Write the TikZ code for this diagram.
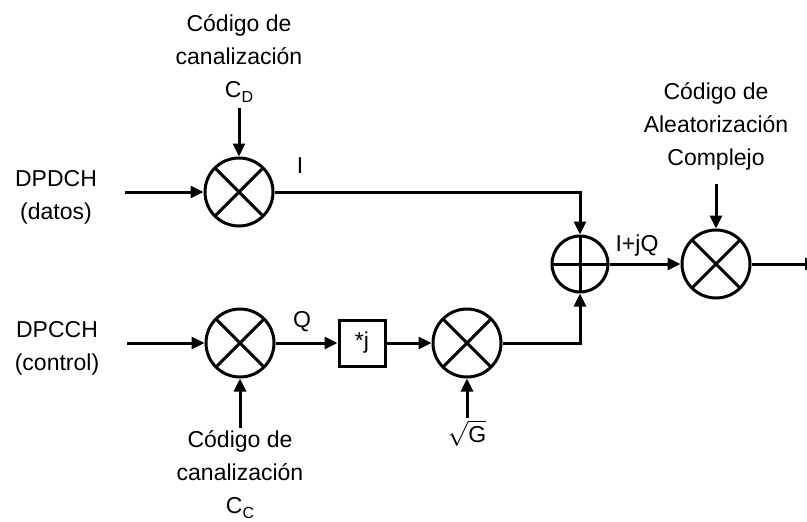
\documentclass[tikz,border=0pt]{standalone}
\usepackage{fontspec}
\setmainfont{Liberation Sans}
\usepackage{amsmath}
\usetikzlibrary{positioning, arrows.meta}

\newcommand{\lowsub}[1]{\raisebox{-0.45ex}{\fontsize{16}{16}\selectfont #1}}

\begin{document}
\begin{tikzpicture}[x=1pt, y=-1pt,
  mult/.style={draw, circle, line width=3pt, minimum size=68pt, inner sep=0pt,
               path picture={
                 \draw[line width=3pt] (path picture bounding box.south west) -- (path picture bounding box.north east);
                 \draw[line width=3pt] (path picture bounding box.north west) -- (path picture bounding box.south east);}},
  adder/.style={draw, circle, line width=3pt, minimum size=56pt, inner sep=0pt,
                path picture={
                  \draw[line width=3pt] (path picture bounding box.north) -- (path picture bounding box.south);
                  \draw[line width=3pt] (path picture bounding box.west) -- (path picture bounding box.east);}},
  conjbox/.style={draw, line width=3pt, minimum size=46pt, inner sep=0pt,
                  font=\fontsize{23}{27}\selectfont},
  arr/.style={-{Triangle[length=13pt, width=12pt]}, line width=3pt},
  lbl/.style={align=center, inner sep=2pt, font=\fontsize{23}{33}\selectfont},
  sig/.style={inner sep=0pt, font=\fontsize{23}{27}\selectfont},
]
\useasboundingbox (0,0) rectangle (807,522);

% mixers and adder
\node[mult] (m1) at (239,192) {};
\node[mult] (m2) at (240,343) {};
\node[conjbox] (conj) at (362,343) {*j};
\node[mult] (m3) at (467,343) {};
\node[adder] (sum) at (580,264) {};
\node[mult] (m4) at (716,264) {};
\coordinate (out) at (818,264);

% inputs
\node[lbl] (dpdch) at (56,197) {DPDCH\\(datos)};
\node[lbl] (dpcch) at (57,348) {DPCCH\\(control)};

% codes
\node[lbl, anchor=south] (cd) at (239,105) {Código de\\canalización\\C\lowsub{D}};
\node[lbl, anchor=north] (cc) at (240,428) {Código de\\canalización\\C\lowsub{C}};
\node[lbl, anchor=north] (gain) at (467,418) {$\sqrt{\text{G}}$};
\node[lbl, anchor=south] (scr) at (716,172) {Código de\\Aleatorización\\Complejo};

% signal names
\node[sig] (ilbl) at (300,166) {I};
\node[sig] (qlbl) at (302,322) {Q};
\node[sig] (iqlbl) at (637,246) {I+jQ};

% connections
\draw[arr, shorten <=26pt] (dpdch.east |- m1) -- (m1);
\draw[arr, shorten <=26pt] (dpcch.east |- m2) -- (m2);
\draw[arr, shorten <=3pt] (cd) -- (m1);
\draw[arr] (cc) -- (m2);
\draw[arr] (gain) -- (m3);
\draw[arr, shorten <=12pt] (scr) -- (m4);
\draw[arr] (m2) -- (conj);
\draw[arr] (conj) -- (m3);
\draw[arr] (m1) -| (sum);
\draw[arr] (m3) -| (sum);
\draw[arr] (sum) -- (m4);
\draw[arr] (m4) -- (out);

\end{tikzpicture}
\end{document}
